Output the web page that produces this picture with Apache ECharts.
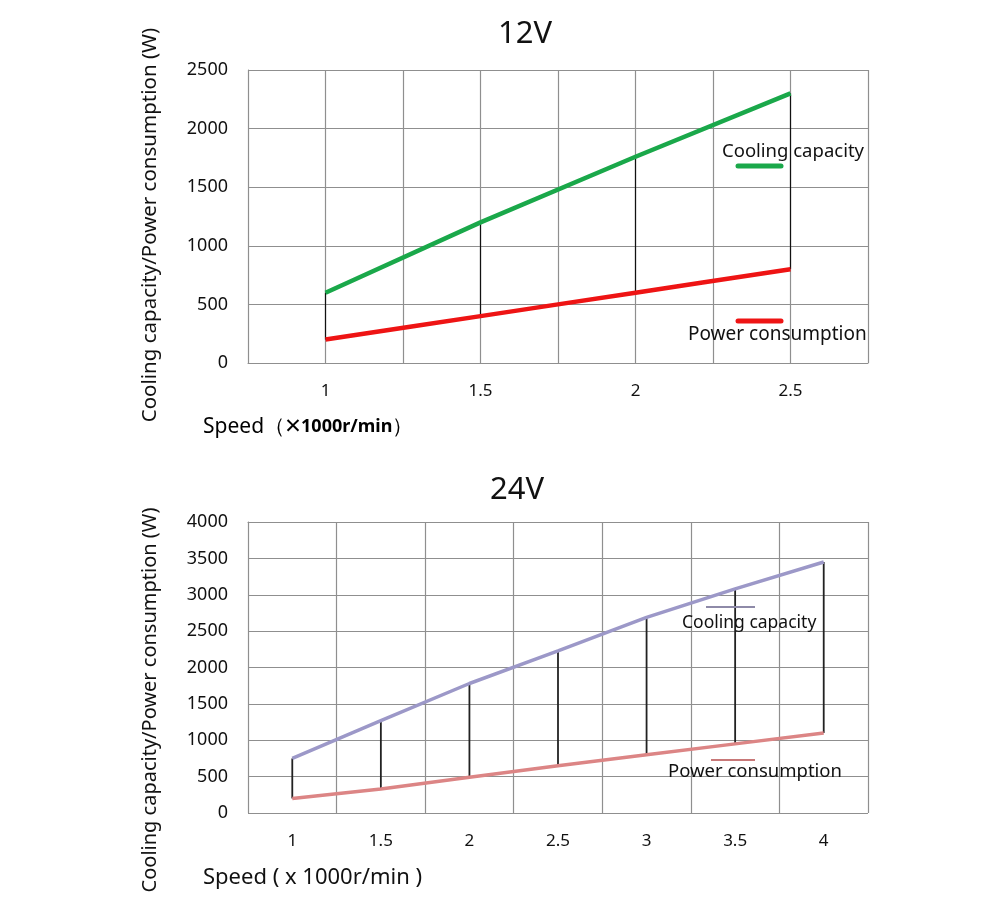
<!DOCTYPE html>
<html>
<head>
<meta charset="utf-8">
<script src="https://cdn.jsdelivr.net/npm/echarts@6/dist/echarts.min.js"></script>
<style>
  html, body { margin: 0; padding: 0; background: #fff; }
  #chart { width: 1000px; height: 924px; }
</style>
</head>
<body>
<div id="chart"></div>
<script>
// 12V chart
const speed12 = [1, 1.5, 2, 2.5];
const cooling12 = [600, 1200, 1760, 2300];
const power12 = [200, 400, 600, 800];

// 24V chart
const speed24 = [1, 1.5, 2, 2.5, 3, 3.5, 4];
const cooling24 = [750, 1270, 1780, 2230, 2690, 3080, 3450];
const power24 = [200, 330, 490, 650, 800, 950, 1100];

const yTitle = 'Cooling capacity/Power consumption (W)';
const font = '"Noto Sans", "Open Sans", sans-serif';
const gridColor = '#8f8f8f';

const myChart = echarts.init(document.getElementById('chart'));

function halfLabel(v) {
  return Math.abs(v * 2 - Math.round(v * 2)) < 1e-6 ? String(Math.round(v * 100) / 100) : '';
}

function connector(xAxisIndex, yAxisIndex, xs, lo, hi, color, width) {
  return {
    type: 'custom',
    xAxisIndex: xAxisIndex,
    yAxisIndex: yAxisIndex,
    z: 3,
    data: xs.map((x, i) => [x, lo[i], hi[i]]),
    renderItem: function (params, api) {
      const a = api.coord([api.value(0), api.value(1)]);
      const b = api.coord([api.value(0), api.value(2)]);
      return {
        type: 'line',
        shape: { x1: a[0], y1: a[1], x2: b[0], y2: b[1] },
        style: { stroke: color, lineWidth: width }
      };
    }
  };
}

const yLabelStyle = { color: '#111', fontSize: 18, fontFamily: font, margin: 20, formatter: v => String(v) };
const xLabelStyle = { color: '#111', fontSize: 17, fontFamily: font, margin: 20, formatter: halfLabel };

const option = {
  animation: false,
  backgroundColor: '#fff',
  textStyle: { fontFamily: font },
  title: [
    { text: '12V', left: 520, top: 14, textAlign: 'center',
      textStyle: { fontSize: 31, fontWeight: 'normal', color: '#111', fontFamily: font } },
    { text: '24V', left: 512, top: 470, textAlign: 'center',
      textStyle: { fontSize: 31, fontWeight: 'normal', color: '#111', fontFamily: font } }
  ],
  grid: [
    { left: 248, top: 70, width: 620, height: 293 },
    { left: 248, top: 522, width: 620, height: 291 }
  ],
  xAxis: [
    {
      type: 'value', gridIndex: 0, min: 0.75, max: 2.75, interval: 0.25,
      axisLine: { show: true, lineStyle: { color: gridColor } },
      axisTick: { show: false },
      axisLabel: xLabelStyle,
      splitLine: { show: true, lineStyle: { color: gridColor, width: 1.2 } }
    },
    {
      type: 'value', gridIndex: 1, min: 0.75, max: 4.25, interval: 0.25,
      axisLine: { show: false },
      axisTick: { show: false },
      axisLabel: xLabelStyle,
      splitLine: { show: false }
    },
    {
      type: 'value', gridIndex: 1, min: 0, max: 7, interval: 1,
      axisLine: { show: true, lineStyle: { color: gridColor } },
      axisTick: { show: false },
      axisLabel: { show: false },
      splitLine: { show: true, lineStyle: { color: gridColor, width: 1.2 } }
    }
  ],
  yAxis: [
    {
      type: 'value', gridIndex: 0, min: 0, max: 2500, interval: 500,
      axisLine: { show: true, lineStyle: { color: gridColor } },
      axisTick: { show: false },
      axisLabel: yLabelStyle,
      splitLine: { show: true, lineStyle: { color: gridColor, width: 1.2 } }
    },
    {
      type: 'value', gridIndex: 1, min: 0, max: 4000, interval: 500,
      axisLine: { show: true, lineStyle: { color: gridColor } },
      axisTick: { show: false },
      axisLabel: yLabelStyle,
      splitLine: { show: true, lineStyle: { color: gridColor, width: 1.2 } }
    }
  ],
  series: [
    connector(0, 0, speed12, power12, cooling12, '#111', 1.2),
    {
      name: 'Cooling capacity', type: 'line', xAxisIndex: 0, yAxisIndex: 0, z: 4,
      data: speed12.map((x, i) => [x, cooling12[i]]),
      symbol: 'none', lineStyle: { color: '#1aa84a', width: 4.5 }
    },
    {
      name: 'Power consumption', type: 'line', xAxisIndex: 0, yAxisIndex: 0, z: 4,
      data: speed12.map((x, i) => [x, power12[i]]),
      symbol: 'none', smooth: 0.3, lineStyle: { color: '#ee1414', width: 4.5 }
    },
    connector(1, 1, speed24, power24, cooling24, '#222', 1.8),
    {
      name: 'Cooling capacity 24V', type: 'line', xAxisIndex: 1, yAxisIndex: 1, z: 4,
      data: speed24.map((x, i) => [x, cooling24[i]]),
      symbol: 'none', lineStyle: { color: '#9c98c8', width: 3.5 }
    },
    {
      name: 'Power consumption 24V', type: 'line', xAxisIndex: 1, yAxisIndex: 1, z: 4,
      data: speed24.map((x, i) => [x, power24[i]]),
      symbol: 'none', lineStyle: { color: '#dc8585', width: 3.5 }
    }
  ],
  graphic: [
    // axis titles
    { type: 'text', x: 150, y: 225, rotation: Math.PI / 2,
      style: { text: yTitle, font: '20.5px ' + font, fill: '#111', textAlign: 'center', textVerticalAlign: 'middle' } },
    { type: 'text', x: 150, y: 700, rotation: Math.PI / 2,
      style: { text: yTitle, font: '20px ' + font, fill: '#111', textAlign: 'center', textVerticalAlign: 'middle' } },
    { type: 'text', x: 203, y: 427,
      style: {
        text: '{a|Speed（}{c|×}{b|1000r/min}{a|）}',
        textVerticalAlign: 'middle',
        rich: {
          a: { fontSize: 21, fontFamily: font, color: '#111' },
          c: { fontSize: 28, fontFamily: font, color: '#111' },
          b: { fontSize: 18, fontFamily: font, fontWeight: 'bold', color: '#111' }
        }
      } },
    { type: 'text', x: 203, y: 878,
      style: { text: 'Speed ( x 1000r/min )', font: '22px ' + font, fill: '#111', textVerticalAlign: 'middle' } },
    // legend-like labels, 12V
    { type: 'text', x: 722, y: 152, z: 10,
      style: { text: 'Cooling capacity', font: '18.5px ' + font, fill: '#111', textVerticalAlign: 'middle' } },
    { type: 'line', z: 10, shape: { x1: 738, y1: 166, x2: 781, y2: 166 },
      style: { stroke: '#1aa84a', lineWidth: 5, lineCap: 'round' } },
    { type: 'line', z: 10, shape: { x1: 738, y1: 321, x2: 781, y2: 321 },
      style: { stroke: '#ee1414', lineWidth: 5, lineCap: 'round' } },
    { type: 'text', x: 688, y: 335, z: 10,
      style: { text: 'Power consumption', font: '19px ' + font, fill: '#111', textVerticalAlign: 'middle' } },
    // legend-like labels, 24V
    { type: 'line', z: 10, shape: { x1: 706, y1: 607, x2: 755, y2: 607 },
      style: { stroke: '#8e8aa8', lineWidth: 2 } },
    { type: 'text', x: 682, y: 623, z: 10,
      style: { text: 'Cooling capacity', font: '17.5px ' + font, fill: '#111', textVerticalAlign: 'middle' } },
    { type: 'line', z: 10, shape: { x1: 711, y1: 760, x2: 755, y2: 760 },
      style: { stroke: '#c87878', lineWidth: 2 } },
    { type: 'text', x: 668, y: 772, z: 10,
      style: { text: 'Power consumption', font: '18.5px ' + font, fill: '#111', textVerticalAlign: 'middle' } }
  ]
};

if (option && myChart) myChart.setOption(option);
</script>
</body>
</html>
